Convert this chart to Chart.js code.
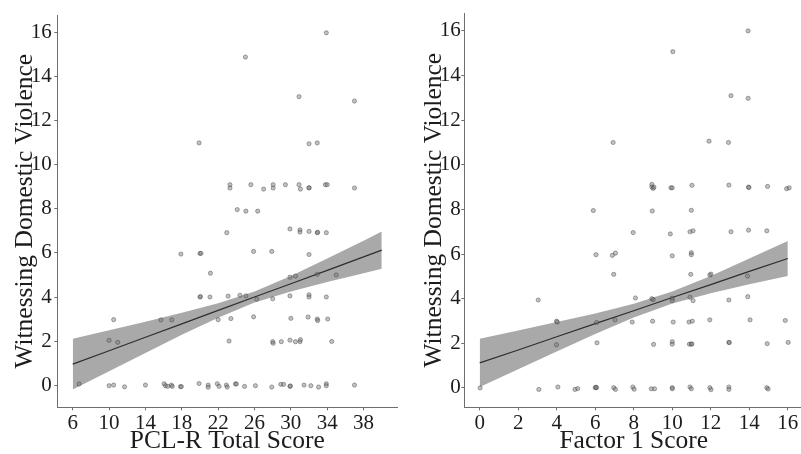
<!DOCTYPE html>
<html>
<head>
<meta charset="utf-8">
<script src="https://cdn.jsdelivr.net/npm/chart.js@4/dist/chart.umd.min.js"></script>
<style>
    html, body { margin: 0; padding: 0; background: #fff; }
    body { width: 801px; height: 454px; position: relative; overflow: hidden; }
    .panel { position: absolute; top: 0; height: 454px; overflow: hidden; background: #fff; }
    #left { left: 0; width: 402px; }
    #right { left: 400px; width: 401px; }
</style>
</head>
<body>
<div class="panel" id="left"><canvas id="pcl" width="402" height="454"></canvas></div>
<div class="panel" id="right"><canvas id="f1" width="408" height="454"></canvas></div>
<script>
// y ticks shared by both panels
const yTicks = [0, 2, 4, 6, 8, 10, 12, 14, 16];

// left panel: PCL-R total score
const pclTicks = [6, 10, 14, 18, 22, 26, 30, 34, 38];
const pclX = [33.9, 25.0, 30.9, 37.0, 19.9, 32.0, 32.9,
    23.3, 23.3, 25.6, 27.0, 28.05, 28.05, 29.4, 30.9, 31.05, 32.0, 32.0, 33.8, 34.0, 37.0,
    24.1, 25.05, 26.35,
    22.95, 29.9, 31.0, 31.0, 32.0, 32.9, 32.95, 33.9,
    17.9, 20.0, 20.1, 25.9, 27.9, 32.0,
    21.15, 29.9, 30.5, 32.9, 35.0,
    20.0, 20.05, 21.1, 23.1, 24.4, 25.05, 26.25, 28.0, 29.9, 32.0, 32.0, 33.9,
    10.5, 15.7, 16.9, 22.0, 23.4, 25.9, 30.0, 31.9, 32.9, 32.95, 34.05,
    10.0, 10.95, 23.2, 28.0, 28.05, 28.95, 29.9, 30.5, 31.0, 31.05, 34.5,
    6.7, 10.0, 10.5, 11.7, 14.0, 16.05, 16.2, 16.45, 16.85, 16.95, 17.85, 17.95, 19.9, 20.9, 20.9,
    21.9, 22.1, 22.9, 23.0, 23.9, 24.0, 24.9, 26.1, 27.9, 28.9, 29.2, 29.9, 29.95, 31.45, 32.2,
    33.05, 33.9, 33.9, 37.0];
const pclY = [16.0, 14.9, 13.1, 12.9, 11.0, 10.96, 11.0,
    9.1, 8.95, 9.1, 8.9, 9.1, 8.95, 9.1, 9.1, 8.9, 8.95, 8.97, 9.1, 9.1, 8.95,
    7.97, 7.9, 7.9,
    6.92, 7.09, 7.05, 6.95, 6.98, 6.92, 6.94, 6.92,
    5.95, 5.98, 5.98, 6.07, 6.07, 5.93,
    5.08, 4.9, 4.95, 5.03, 5.0,
    4.0, 4.02, 4.0, 4.04, 4.08, 4.05, 3.9, 3.92, 4.05, 4.1, 4.0, 4.0,
    2.97, 2.96, 2.96, 2.97, 3.02, 3.1, 3.03, 3.09, 3.0, 2.93, 3.0,
    2.03, 1.94, 2.0, 1.97, 1.9, 1.97, 2.04, 1.97, 1.97, 2.06, 1.98,
    0.05, -0.03, 0.0, -0.08, 0.0, 0.06, -0.03, -0.06, 0.0, -0.06, -0.07, -0.07, 0.07, 0.0, -0.1,
    0.06, -0.06, 0.0, -0.09, 0.05, 0.05, -0.06, -0.03, -0.09, 0.03, 0.03, -0.06, -0.04, 0.0, -0.03,
    -0.09, 0.06, -0.03, 0.0];
const pclFitX = [6, 10, 14, 18, 22, 26, 30, 34, 38, 40];
const pclFit = [0.95, 1.56, 2.17, 2.78, 3.39, 4.0, 4.6, 5.21, 5.82, 6.13];
const pclUpper = [2.10, 2.49, 2.88, 3.29, 3.72, 4.25, 4.95, 5.75, 6.56, 6.98];
const pclLower = [-0.20, 0.63, 1.46, 2.28, 3.06, 3.75, 4.25, 4.68, 5.08, 5.28];

// right panel: Factor 1 score
const f1Ticks = [0, 2, 4, 6, 8, 10, 12, 14, 16];
const f1X = [13.94, 10.03, 13.05, 13.94, 6.93, 11.91, 12.92,
    8.94, 8.94, 9.01, 9.05, 9.93, 10.0, 11.02, 12.94, 13.96, 13.98, 14.95, 15.94, 16.07,
    5.9, 8.96, 10.99,
    7.97, 9.9, 10.92, 11.08, 13.05, 13.96, 14.91,
    6.04, 6.89, 7.05, 10.0, 10.99, 10.99,
    6.96, 10.96, 11.95, 12.01, 13.91,
    3.04, 8.09, 8.94, 9.01, 10.0, 10.0, 10.92, 11.08, 12.94, 13.92,
    3.99, 4.03, 6.07, 7.03, 7.92, 8.98, 10.05, 10.87, 11.04, 11.95, 14.04, 15.87,
    3.99, 6.09, 9.03, 10.0, 10.0, 10.89, 10.99, 11.02, 12.94, 12.96, 14.93, 16.02,
    0.02, 3.07, 4.06, 4.95, 5.09, 6.0, 6.07, 6.03, 6.96, 7.05, 7.95, 8.02, 8.91, 9.08,
    10.0, 10.0, 10.92, 10.99, 11.95, 12.01, 12.94, 12.94, 14.91, 14.98];
const f1Y = [16.0, 15.07, 13.1, 12.98, 11.0, 11.06, 11.0,
    9.12, 9.0, 8.94, 9.0, 8.97, 8.97, 9.08, 9.09, 9.0, 8.98, 9.03, 8.93, 8.97,
    7.95, 7.93, 7.96,
    6.96, 6.9, 7.0, 7.04, 7.0, 7.07, 7.04,
    5.97, 5.94, 6.04, 5.92, 6.06, 5.97,
    5.09, 5.09, 5.06, 5.1, 5.01,
    3.94, 4.03, 4.0, 3.96, 4.02, 3.91, 4.06, 3.91, 3.94, 4.09,
    2.99, 2.95, 2.93, 3.05, 2.95, 2.99, 2.95, 2.95, 2.99, 3.05, 3.05, 3.02,
    1.93, 2.02, 1.95, 2.07, 1.96, 1.96, 1.96, 1.97, 2.04, 2.03, 1.98, 2.04,
    0.0, -0.07, 0.04, -0.07, -0.03, 0.01, 0.01, 0.03, 0.01, -0.07, 0.04, -0.06, -0.04, -0.04,
    0.01, -0.04, 0.04, -0.04, 0.01, -0.08, 0.04, -0.07, 0.01, -0.05];
const f1FitX = [0, 2, 4, 6, 8, 10, 12, 14, 16];
const f1Fit = [1.12, 1.70, 2.29, 2.88, 3.46, 4.05, 4.63, 5.22, 5.80];
const f1Upper = [2.20, 2.57, 2.95, 3.34, 3.77, 4.32, 5.02, 5.80, 6.58];
const f1Lower = [0.04, 0.83, 1.63, 2.42, 3.15, 3.78, 4.24, 4.65, 5.02];

const serif = 'Liberation Serif, Times New Roman, serif';
const axisColor = '#6e6e6e';
const textColor = '#1c1c1c';

function pts(xs, ys) {
    return xs.map((x, i) => ({ x: x, y: ys[i] }));
}

function makePanel(cfg) {
    const ctx = document.getElementById(cfg.id);
    return new Chart(ctx, {
        type: 'scatter',
        data: {
            datasets: [
                {
                    type: 'line',
                    data: pts(cfg.fitX, cfg.lower),
                    borderWidth: 0,
                    pointRadius: 0,
                    fill: false,
                    order: 3,
                },
                {
                    type: 'line',
                    data: pts(cfg.fitX, cfg.upper),
                    borderWidth: 0,
                    pointRadius: 0,
                    fill: '-1',
                    backgroundColor: '#a9a9a9',
                    order: 2,
                },
                {
                    type: 'line',
                    data: pts(cfg.fitX, cfg.fit),
                    borderColor: '#2e2e2e',
                    borderWidth: 1.2,
                    pointRadius: 0,
                    fill: false,
                    order: 1,
                },
                {
                    type: 'scatter',
                    data: pts(cfg.xs, cfg.ys),
                    pointRadius: 2.1,
                    borderWidth: 0.8,
                    backgroundColor: 'rgba(120,120,120,0.45)',
                    borderColor: 'rgba(50,50,50,0.5)',
                    order: 0,
                },
            ],
        },
        options: {
            responsive: false,
            devicePixelRatio: 1,
            animation: false,
            layout: { padding: { top: 12, left: 0, right: 0, bottom: 0 } },
            plugins: {
                legend: { display: false },
                tooltip: { enabled: false },
            },
            scales: {
                x: {
                    type: 'linear',
                    min: cfg.xMin,
                    max: cfg.xMax,
                    afterBuildTicks: (s) => { s.ticks = cfg.xTicks.map((v) => ({ value: v })); },
                    afterFit: (s) => { s.height = 46.7; },
                    border: { display: true, color: axisColor, width: 1 },
                    grid: { display: true, drawOnChartArea: false, drawTicks: true, tickLength: 3, color: axisColor },
                    ticks: { color: textColor, padding: 1, font: { family: serif, size: 21 } },
                    title: {
                        display: true,
                        text: cfg.xTitle,
                        color: textColor,
                        padding: { top: 0, bottom: 0 },
                        font: { family: serif, size: 25.5, lineHeight: 1 },
                    },
                },
                y: {
                    type: 'linear',
                    min: cfg.yMin,
                    max: 16.8,
                    afterBuildTicks: (s) => { s.ticks = yTicks.map((v) => ({ value: v })); },
                    afterFit: (s) => { s.width = cfg.yWidth; },
                    border: { display: true, color: axisColor, width: 1 },
                    grid: { display: true, drawOnChartArea: false, drawTicks: true, tickLength: 3, color: axisColor },
                    ticks: { color: textColor, padding: cfg.yPad, font: { family: serif, size: 21 } },
                    title: {
                        display: true,
                        text: 'Witnessing Domestic Violence',
                        color: textColor,
                        padding: { top: cfg.titlePad, bottom: 0 },
                        font: { family: serif, size: 25.5, lineHeight: 1 },
                    },
                },
            },
        },
    });
}

makePanel({
    id: 'pcl', xs: pclX, ys: pclY, fitX: pclFitX, fit: pclFit, upper: pclUpper, lower: pclLower,
    xTicks: pclTicks, xMin: 4.3, xMax: 41.7, yMin: -1.01, yWidth: 57.3, yPad: 2.6, titlePad: 12.75,
    xTitle: 'PCL-R Total Score',
});
makePanel({
    id: 'f1', xs: f1X, ys: f1Y, fitX: f1FitX, fit: f1Fit, upper: f1Upper, lower: f1Lower,
    xTicks: f1Ticks, xMin: -0.8, xMax: 16.8, yMin: -0.87, yWidth: 64.3, yPad: 0.5, titlePad: 21.25,
    xTitle: 'Factor 1 Score',
});
</script>
</body>
</html>
